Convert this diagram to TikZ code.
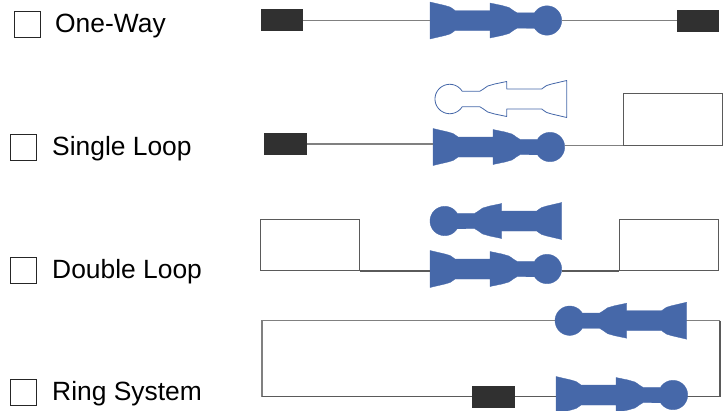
\documentclass[tikz,border=0pt]{standalone}
\usepackage{fontspec}
\setmainfont{Liberation Sans}
\definecolor{valveblue}{HTML}{4668A9}
\definecolor{blockdark}{HTML}{303030}
\definecolor{wire}{HTML}{808080}
\definecolor{loopline}{HTML}{5A5A5A}
\tikzset{
  x=1pt,y=-1pt,
  valve/.pic={
    \coordinate (-l) at (0,0);
    \coordinate (-r) at (131.7,0);
    \path[pic actions,line join=round]
      (0,-18.5) -- (15,-15) -- (20,-13.5) -- (23,-11.5) -- (25,-10) -- (60,-10) -- (60,-17.5)
      -- (72,-15) -- (79,-13) -- (84,-9.5) -- (87,-7.7) -- (104.5,-7.7)
      -- plot[domain=-148:148,samples=41,variable=\a] ({117+14.7*cos(\a)},{14.7*sin(\a)})
      -- (87,7.7) -- (84,9.5) -- (79,13) -- (72,15) -- (60,17.5) -- (60,10)
      -- (25,10) -- (23,11.5) -- (20,13.5) -- (15,15) -- (0,18.5) -- cycle;
  },
  solidvalve/.style={fill=valveblue,draw=valveblue,line width=0.3pt},
  hollowvalve/.style={draw=valveblue,line width=0.8pt,fill=white},
  block/.style={fill=blockdark,draw=none,minimum width=42.5pt,minimum height=22pt,inner sep=0pt},
  loopbox/.style={draw=loopline,line width=1pt,minimum width=99pt,minimum height=51.5pt,inner sep=0pt,anchor=north west},
  wireline/.style={draw=wire,line width=1.2pt},
  loopwire/.style={draw=loopline,line width=1.1pt,line join=miter},
  tick/.style={draw=black!85,line width=1pt,minimum width=26pt,minimum height=26pt,inner sep=0pt,anchor=north west},
  lab/.style={anchor=base west,inner sep=0pt,font=\fontsize{26.4pt}{30pt}\selectfont,text=black}
}
\begin{document}
\begin{tikzpicture}
\useasboundingbox (0,0) rectangle (723,410);
\clip (0,0) rectangle (723,410);
% labels and tick boxes
\node[tick] (t1) at (13.5,11) {};
\node[tick] (t2) at (10,134) {};
\node[tick] (t3) at (10,257) {};
\node[tick] (t4) at (10,379) {};
\node[lab] (l1) at (55,32) {One-Way};
\node[lab] (l2) at (52,155) {Single Loop};
\node[lab] (l3) at (52,278) {Double Loop};
\node[lab] (l4) at (52,400) {Ring System};
% row 1
\node[block] (b1a) at (282,20) {};
\node[block] (b1b) at (698,21) {};
\pic[solidvalve] (v1) at (430,20.5) {valve};
\draw[wireline] (b1a.east |- v1-l) -- (v1-l);
\draw[wireline] (v1-r) -- (v1-r -| b1b.west);
% row 2
\node[block] (b2) at (285.5,144) {};
\node[loopbox] (loop2) at (623,93) {};
\pic[hollowvalve,xscale=-1] (v2u) at (566.7,99) {valve};
\pic[solidvalve] (v2) at (433,147) {valve};
\draw[wireline] (b2.east) -- (b2.east -| v2-l);
\draw[wireline] (loop2.south west -| v2-r) -- (loop2.south west);
% row 3
\node[loopbox] (loop3a) at (260,218.5) {};
\node[loopbox] (loop3b) at (619,218.5) {};
\pic[solidvalve,xscale=-1] (v3u) at (561.7,221) {valve};
\pic[solidvalve] (v3) at (430,269) {valve};
\draw[loopwire] (loop3a.south east) -- (loop3a.south east -| v3-l);
\draw[loopwire] (loop3a.south east -| v3-r) -- (loop3b.south west);
% row 4
\node[block] (b4) at (493.5,396.5) {};
\coordinate (c1) at (262,320.5);
\coordinate (c2) at (720,320.5);
\coordinate (c3) at (720,396.5);
\coordinate (c4) at (262,396.5);
\draw[wireline] (c4) -- (c1) -- (c2);
\draw[loopwire] (c2) -- (c3) -- (b4.east);
\draw[loopwire] (b4.west) -- (c4);
\pic[solidvalve,xscale=-1] (v4u) at (686.7,320.7) {valve};
\pic[solidvalve] (v4) at (556,395) {valve};
\end{tikzpicture}
\end{document}
